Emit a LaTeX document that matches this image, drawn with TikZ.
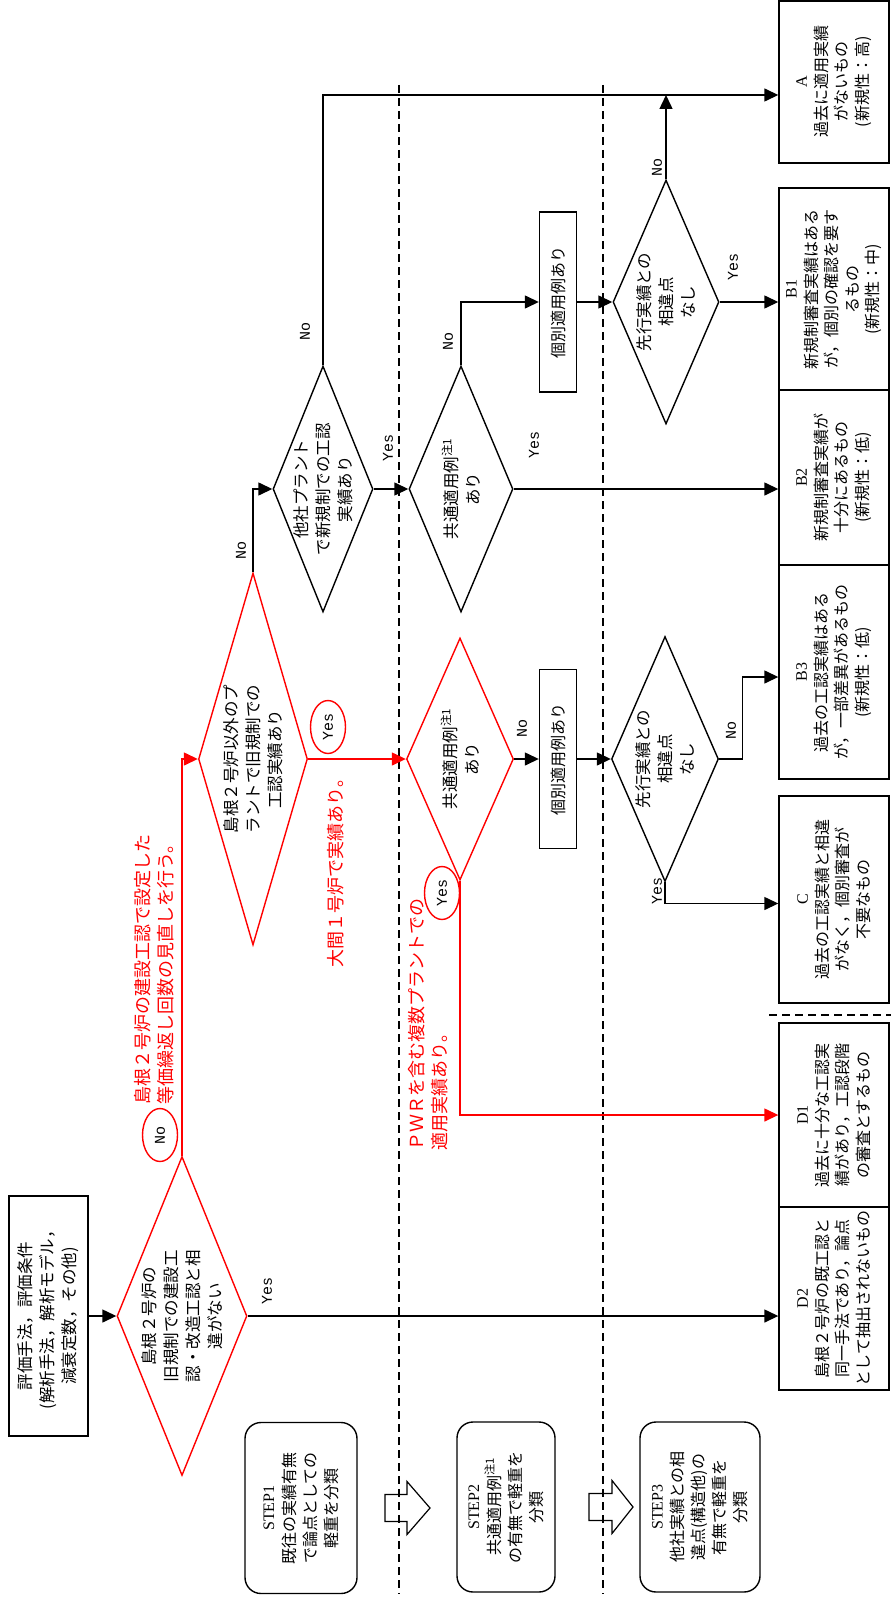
\documentclass[tikz,border=0pt]{standalone}
\usepackage{fontspec}
\setmainfont{Noto Sans CJK JP}
\newfontfamily\rom{Liberation Serif}
\newfontfamily\mono{Liberation Mono}
\usetikzlibrary{arrows.meta,shapes.geometric,calc}

\begin{document}
\begin{tikzpicture}[
  x=1pt, y=-1pt,
  font=\fontsize{16}{20.5}\selectfont,
  line width=1.4pt,
  box/.style={
    draw,
    rotate=90,
    align=center,
    inner sep=1pt,
    minimum height=110pt
  },
  stepbox/.style={
    draw,
    rotate=90,
    rounded corners=16pt,
    align=center,
    inner sep=1pt,
    font=\fontsize{16}{21}\selectfont
  },
  dia/.style={
    draw,
    diamond,
    rotate=90,
    align=center,
    inner sep=-6pt,
    font=\fontsize{16.5}{22}\selectfont
  },
  rdia/.style={dia, draw=red},
  lbl/.style={rotate=90, inner sep=0pt, font=\mono\fontsize{15}{16}\selectfont},
  rmark/.style={
    ellipse,
    draw=red,
    rotate=90,
    inner sep=0pt,
    minimum width=53pt,
    minimum height=35pt,
    font=\mono\fontsize{15}{16}\selectfont
  },
  note/.style={rotate=90, red, anchor=west, align=left, inner sep=0pt,
    font=\fontsize{18}{23}\selectfont},
  arr/.style={-{Triangle[length=14pt,width=13pt]}},
  rarr/.style={arr, red},
  sep/.style={dash pattern=on 8pt off 5pt, line width=1.2pt}
]
\useasboundingbox (0,0) rectangle (891,1597);

% step separators
\draw[sep] (399,85) -- (399,1594);
\draw[sep] (603,85) -- (603,1594);
\draw[sep] (769,1015) -- (891,1015);

% results
\node[box, minimum width=162pt] (a) at (834,82) {{\rom A}\\過去に適用実績\\がないもの\\(新規性：高)};
\node[box, minimum width=202pt] (b1) at (834,289) {{\rom B1}\\新規制審査実績はある\\が，個別の確認を要す\\るもの\\(新規性：中)};
\node[box, minimum width=175pt] (b2) at (834,477.5) {{\rom B2}\\新規制審査実績が\\十分にあるもの\\(新規性：低)};
\node[box, minimum width=214pt] (b3) at (834,672) {{\rom B3}\\過去の工認実績はある\\が，一部差異があるもの\\(新規性：低)};
\node[box, minimum width=207pt] (c) at (834,899.5) {{\rom C}\\過去の工認実績と相違\\がなく，個別審査が\\不要なもの};
\node[box, minimum width=184pt] (d1) at (834,1115) {{\rom D1}\\過去に十分な工認実\\績があり，工認段階\\の審査とするもの};
\node[box, minimum width=183pt] (d2) at (834,1298.5) {{\rom D2}\\島根２号炉の既工認と\\同一手法であり，論点\\として抽出されないもの};

% input
\node[box, minimum width=240pt, minimum height=79pt, font=\fontsize{16.5}{22}\selectfont] (inp) at (48.5,1316) {評価手法，評価条件\\(解析手法，解析モデル，\\減衰定数，その他)};

% decisions
\node[rdia, minimum width=319pt, minimum height=130pt, shape aspect=2.45] (chk1) at (182,1316) {島根２号炉の\\旧規制での建設工\\認・改造工認と相\\違がない};
\node[rdia, minimum width=372pt, minimum height=109pt, shape aspect=3.4] (chk2) at (253,759) {島根２号炉以外のプ\\ラントで旧規制での\\工認実績あり};
\node[dia, minimum width=246pt, minimum height=100pt, shape aspect=2.46] (chk3) at (323,489) {他社プラント\\で新規制での工認\\実績あり};
\node[dia, minimum width=246pt, minimum height=104pt, shape aspect=2.37] (chk4) at (461,489) {共通適用例\textsuperscript{注1}\\あり};
\node[dia, minimum width=244pt, minimum height=106pt, shape aspect=2.3] (chk5) at (666,302) {先行実績との\\相違点\\なし};
\node[rdia, minimum width=242pt, minimum height=107pt, shape aspect=2.26] (chk6) at (460,759) {共通適用例\textsuperscript{注1}\\あり};
\node[dia, minimum width=245pt, minimum height=107pt, shape aspect=2.29] (chk7) at (665,759) {先行実績との\\相違点\\なし};

\node[box, minimum width=180pt, minimum height=37pt] (indiv1) at (558,302) {個別適用例あり};
\node[box, minimum width=179pt, minimum height=37pt] (indiv2) at (558,759) {個別適用例あり};

% steps
\node[stepbox, minimum width=171pt, minimum height=112pt] (step1) at (301,1508) {{\rom STEP1}\\既往の実績有無\\で論点としての\\軽重を分類};
\node[stepbox, minimum width=170pt, minimum height=98pt] (step2) at (506,1507) {{\rom STEP2}\\共通適用例\textsuperscript{注1}\\の有無で軽重を\\分類};
\node[stepbox, minimum width=170pt, minimum height=120pt] (step3) at (700,1507) {{\rom STEP3}\\他社実績との相\\違点(構造他)の\\有無で軽重を\\分類};

% block arrows between steps
\draw[line width=1.2pt] (385,1494.5) -- (407,1494.5) -- (407,1481.5) -- (430,1508)
  -- (407,1534.5) -- (407,1521.5) -- (385,1521.5) -- cycle;
\draw[line width=1.2pt] (589,1493.5) -- (612,1493.5) -- (612,1480.5) -- (633,1507)
  -- (612,1533.5) -- (612,1520.5) -- (589,1520.5) -- cycle;

% red notes
\node[rmark] (no1) at (160,1135) {No};
\node[rmark] (yes2) at (328,727) {Yes};
\node[rmark] (yes6) at (442,893) {Yes};
\node[note] (note1) at (154.5,1105) {島根２号炉の建設工認で設定した\\等価繰返し回数の見直しを行う。};
\node[note] (note2) at (336,968) {大間１号炉で実績あり。};
\node[note] (note3) at (428.5,1151) {ＰＷＲを含む複数プラントでの\\適用実績あり。};

% branch labels
\node[lbl] (y1) at (267,1291) {Yes};
\node[lbl] (n2) at (241,550) {No};
\node[lbl] (n3) at (305,331) {No};
\node[lbl] (y3) at (388,448) {Yes};
\node[lbl] (n4) at (448,341) {No};
\node[lbl] (y4) at (534,445) {Yes};
\node[lbl] (n5) at (657,168) {No};
\node[lbl] (y5) at (733,267) {Yes};
\node[lbl] (n6) at (522,728) {No};
\node[lbl] (n7) at (731,730) {No};
\node[lbl] (y7) at (657,891) {Yes};

\coordinate (topline) at (0,95);

% flow
\draw[arr] (inp.south) -- (chk1.north);
\draw[arr] (chk1.south) -- (chk1.south -| d2.north);
\draw[rarr] (chk1.east) |- (chk2.north);
\draw[arr] (chk2.east) |- (chk3.north);
\draw[rarr] (chk2.south) -- (chk6.north);
\draw[arr] (chk3.east) |- (topline -| a.north);
\draw[arr] (chk5.east) -- (chk5.east |- topline);
\draw[arr] (chk3.south) -- (chk4.north);
\draw[arr] (chk4.east) |- (indiv1.north);
\draw[arr] (indiv1.south) -- (chk5.north);
\draw[arr] (chk5.south) -- (chk5.south -| b1.north);
\draw[arr] (chk4.south) -- (chk4.south -| b2.north);
\draw[arr] (chk6.south) -- (indiv2.north);
\draw[arr] (indiv2.south) -- (chk7.north);
\draw[arr] (chk7.south) -- ++(23,0) |- ($(b3.north)+(0,5)$);
\draw[arr] (chk7.west) |- ($(c.north)+(0,4)$);
\draw[rarr] (chk6.west) |- (d1.north);
\end{tikzpicture}
\end{document}
